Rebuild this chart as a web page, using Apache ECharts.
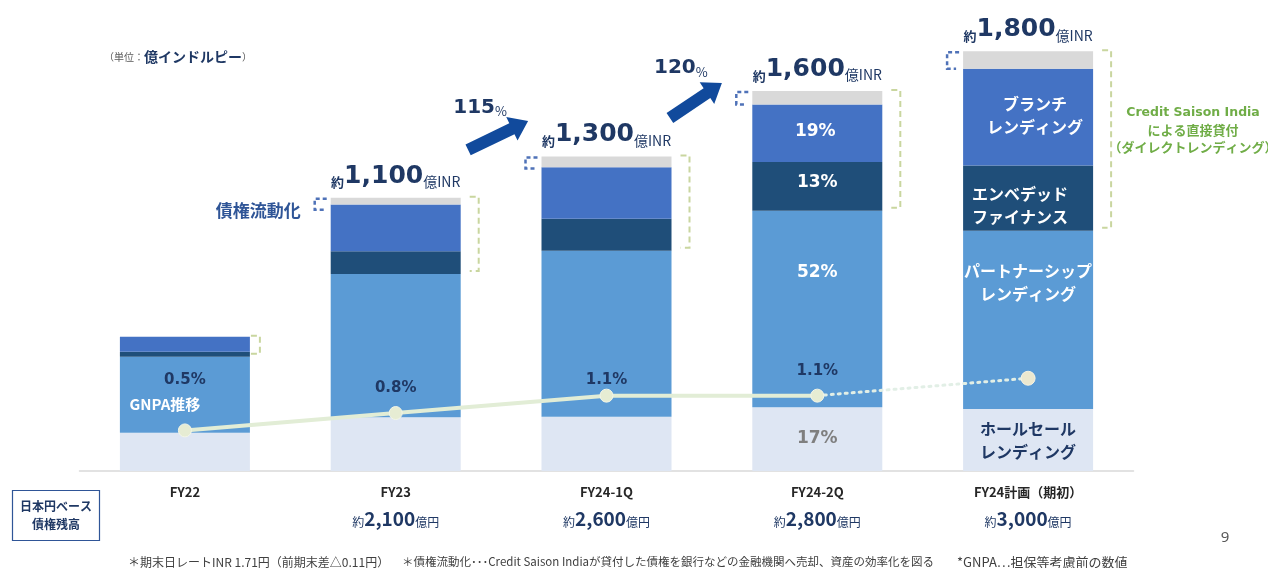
<!DOCTYPE html>
<html>
<head>
<meta charset="utf-8">
<script src="https://cdn.jsdelivr.net/npm/echarts@6/dist/echarts.min.js"></script>
<style>
html,body{margin:0;padding:0;background:#fff}
#c{width:1268px;height:568px}
</style>
</head>
<body>
<div id="c"></div>
<script>
// 期
const categories = ['FY22', 'FY23', 'FY24-1Q', 'FY24-2Q', 'FY24計画（期初）'];
// 債権残高の内訳（億INR）
const wholesale   = [161, 226, 228, 268, 260];
const partnership = [318, 601, 696, 824, 748];
const embedded    = [21, 95, 134, 205, 274];
const branch      = [63, 196, 217, 241, 406];
const securitized = [0, 28, 45, 56, 73];
// 表示用の残高（億INR / 億円）
const totalInr = ['', '1,100', '1,300', '1,600', '1,800'];
const totalJpy = ['', '2,100', '2,600', '2,800', '3,000'];
// GNPA（%）
const gnpa = [0.5, 0.8, 1.1, 1.1, 1.4];
// 前期比成長率（%）
const growth = ['115', '120'];

const shareIdx = 3;   // 構成比を表示する期
const planIdx = 4;    // 計画値の期

const NAVY = '#1f3864';
const JP = 'Noto Sans CJK JP';
const WIDE = 'DejaVu Sans';

const total = categories.map((_, i) =>
  wholesale[i] + partnership[i] + embedded[i] + branch[i] + securitized[i]);
const pct = v => Math.round(v / total[shareIdx] * 100) + '%';

const segLabel = (text, color, extra) => Object.assign({
  show: true, formatter: text, color: color, fontFamily: JP, fontWeight: 'bold',
  fontSize: 16, lineHeight: 23, position: 'inside'
}, extra || {});
const pctLabel = (text, color, extra) => Object.assign({
  show: true, formatter: text, color: color, fontFamily: WIDE, fontWeight: 'bold',
  fontSize: 17, position: 'inside'
}, extra || {});

function items(values, share, plan) {
  return values.map((v, i) => {
    if (i === shareIdx && share) return { value: v, label: share };
    if (i === planIdx && plan) return { value: v, label: plan };
    return v;
  });
}

// GNPAラベルの持ち上げ量（px）
const gnpaLift = [36, 10, 1, 10];

const option = {
  animation: false,
  backgroundColor: '#ffffff',
  textStyle: { fontFamily: JP },
  grid: { left: 79.5, right: 134.5, top: 42, bottom: 97 },
  xAxis: {
    type: 'category',
    data: categories,
    axisTick: { show: false },
    axisLine: { lineStyle: { color: '#d9d9d9', width: 1.5 } },
    axisLabel: {
      margin: 10,
      interval: 0,
      formatter: (val, idx) => {
        let s = '{c|' + val + '}';
        if (totalJpy[idx]) s += '\n{y|約}{n|' + totalJpy[idx] + '}{u|億円}';
        return s;
      },
      rich: {
        c: { fontFamily: JP, fontWeight: 'bold', fontSize: 13, color: '#262626', lineHeight: 22 },
        y: { fontFamily: JP, fontSize: 12, color: NAVY, lineHeight: 20, verticalAlign: 'bottom' },
        n: { fontFamily: JP, fontWeight: 'bold', fontSize: 19, color: NAVY, lineHeight: 25, verticalAlign: 'bottom' },
        u: { fontFamily: JP, fontSize: 12, color: NAVY, lineHeight: 20, verticalAlign: 'bottom' }
      }
    }
  },
  yAxis: [
    { type: 'value', min: 0, max: 1800, show: false },
    { type: 'value', min: -0.2, max: 7.2, show: false }
  ],
  series: [
    {
      name: 'ホールセールレンディング', type: 'bar', stack: 'loan', barWidth: 130,
      itemStyle: { color: '#dee6f3' },
      data: items(wholesale,
        pctLabel(pct(wholesale[shareIdx]), '#7f7f7f'),
        segLabel('ホールセール\nレンディング', NAVY))
    },
    {
      name: 'パートナーシップレンディング', type: 'bar', stack: 'loan',
      itemStyle: { color: '#5b9bd5' },
      data: items(partnership,
        pctLabel(pct(partnership[shareIdx]), '#ffffff', { offset: [0, -36] }),
        segLabel('パートナーシップ\nレンディング', '#ffffff', { offset: [0, -37] }))
    },
    {
      name: 'エンベデッドファイナンス', type: 'bar', stack: 'loan',
      itemStyle: { color: '#1f4e79' },
      data: items(embedded,
        pctLabel(pct(embedded[shareIdx]), '#ffffff', { offset: [0, -4] }),
        segLabel('エンベデッド\nファイナンス', '#ffffff', { offset: [-8, 7] }))
    },
    {
      name: 'ブランチレンディング', type: 'bar', stack: 'loan',
      itemStyle: { color: '#4472c4' },
      data: items(branch,
        pctLabel(pct(branch[shareIdx] + securitized[shareIdx]), '#ffffff', { offset: [-2, -2] }),
        segLabel('ブランチ\nレンディング', '#ffffff', { offset: [7, -2] }))
    },
    {
      name: '債権流動化', type: 'bar', stack: 'loan',
      itemStyle: { color: '#d9d9d9' },
      label: {
        show: true, position: 'top', distance: 9,
        formatter: p => totalInr[p.dataIndex] ? '{y|約}{n|' + totalInr[p.dataIndex] + '}{u|億INR}' : '',
        rich: {
          y: { fontFamily: JP, fontWeight: 'bold', fontSize: 13, color: NAVY, lineHeight: 30, verticalAlign: 'bottom' },
          n: { fontFamily: WIDE, fontWeight: 'bold', fontSize: 25, color: NAVY, lineHeight: 30, verticalAlign: 'bottom' },
          u: { fontFamily: JP, fontSize: 14, color: NAVY, lineHeight: 30, verticalAlign: 'bottom' }
        }
      },
      data: securitized
    },
    {
      name: 'GNPA', type: 'line', yAxisIndex: 1, z: 5,
      symbol: 'circle', symbolSize: 13,
      lineStyle: { color: '#e2edd6', width: 4 },
      itemStyle: { color: '#e6ecd3', borderColor: '#f3f6e8', borderWidth: 1 },
      label: {
        show: true, position: 'top', formatter: '{c}%',
        fontFamily: WIDE, fontWeight: 'bold', fontSize: 15, color: NAVY
      },
      data: gnpa.map((v, i) => i <= shareIdx ? { value: v, label: { distance: gnpaLift[i] } } : '-')
    },
    {
      name: 'GNPA計画', type: 'line', yAxisIndex: 1, z: 5,
      symbol: 'circle', symbolSize: 14,
      lineStyle: { color: '#e2efe6', width: 3, type: [2, 5], cap: 'round' },
      itemStyle: { color: '#ece8cf', borderColor: '#f5f3e4', borderWidth: 1 },
      data: gnpa.map((v, i) => i === shareIdx ? { value: v, symbolSize: 0 } : (i > shareIdx ? v : '-'))
    }
  ]
};

const chart = echarts.init(document.getElementById('c'));
chart.setOption(option);

// 注記類を軸の座標から配置する
const px = (i, v) => chart.convertToPixel({ gridIndex: 0 }, [i, v]);
const gpx = (i, v) => chart.convertToPixel({ seriesIndex: 5 }, [i, v]);
const half = 65;
const lvl = categories.map((_, i) => {
  const c1 = wholesale[i], c2 = c1 + partnership[i], c3 = c2 + embedded[i],
        c4 = c3 + branch[i], c5 = c4 + securitized[i];
  return { cx: px(i, 0)[0], base: px(i, 0)[1], y1: px(i, c1)[1], y2: px(i, c2)[1],
           y3: px(i, c3)[1], y4: px(i, c4)[1], y5: px(i, c5)[1] };
});

const g = [];
function arrowPts(x0, y0, x1, y1, sw, hw, hl) {
  const dx = x1 - x0, dy = y1 - y0, L = Math.hypot(dx, dy);
  const ux = dx / L, uy = dy / L, nx = -uy, ny = ux;
  const bx = x1 - ux * hl, by = y1 - uy * hl;
  return [[x0 + nx * sw, y0 + ny * sw], [bx + nx * sw, by + ny * sw], [bx + nx * hw, by + ny * hw],
          [x1, y1], [bx - nx * hw, by - ny * hw], [bx - nx * sw, by - ny * sw], [x0 - nx * sw, y0 - ny * sw]];
}

lvl.forEach((L, i) => {
  const left = L.cx - half, right = L.cx + half;
  // 債権流動化の目印（左）
  if (securitized[i] > 0) {
    const x = left - 16, t = L.y5 + 1, b = Math.max(L.y4, t + 11);
    g.push({ type: 'polyline', silent: true,
      shape: { points: [[x + 12, t], [x, t], [x, b], [x + 9, b]] },
      style: { stroke: '#4f72b8', lineWidth: 2.5, lineDash: [4, 3], fill: null } });
  }
  // 直接貸付の括弧（右）
  const rx = right + (i === 0 ? 10 : 18);
  const rt = L.y5 - 1, rb = L.y2 - 3;
  g.push({ type: 'polyline', silent: true,
    shape: { points: [[rx - 9, rt], [rx, rt], [rx, rb], [rx - 9, rb]] },
    style: { stroke: '#c9d69f', lineWidth: 2, lineDash: [6, 4], fill: null } });
});

// 成長率の矢印
const arrowColor = '#114a9c';
[[1, 2, -33, -6.5, 27, -35.5, -21, -52], [2, 3, -42, 27, 10, -8, -31, -26]].forEach((a, k) => {
  const mid = (lvl[a[0]].cx + lvl[a[1]].cx) / 2, top = lvl[a[1]].y5;
  g.push({ type: 'polygon', silent: true,
    shape: { points: arrowPts(mid + a[2], top + a[3], mid + a[4], top + a[5], 6, 13, 18) },
    style: { fill: arrowColor } });
  g.push({ type: 'text', silent: true, x: mid + a[6], y: top + a[7],
    style: { text: '{n|' + growth[k] + '}{p|%}', align: 'center', verticalAlign: 'middle',
      rich: {
        n: { fontFamily: WIDE, fontWeight: 'bold', fontSize: 20, fill: NAVY, lineHeight: 26, verticalAlign: 'bottom' },
        p: { fontFamily: JP, fontSize: 13, fill: NAVY, lineHeight: 24, verticalAlign: 'bottom' }
      } } });
});

// FY24-2Q 構成比（ブランチ＋流動化）の範囲
{
  const L = lvl[shareIdx], x = L.cx - half + 21, t = L.y5 + 1, b = L.y3 - 2;
  g.push({ type: 'line', silent: true, shape: { x1: x, y1: t + 6, x2: x, y2: b - 6 },
    style: { stroke: '#ffffff', lineWidth: 1.2 } });
  g.push({ type: 'polygon', silent: true, shape: { points: [[x, t], [x - 4, t + 8], [x + 4, t + 8]] },
    style: { fill: '#ffffff' } });
  g.push({ type: 'polygon', silent: true, shape: { points: [[x, b], [x - 4, b - 8], [x + 4, b - 8]] },
    style: { fill: '#ffffff' } });
}

// GNPA推移
{
  const p = gpx(0, gnpa[0]);
  g.push({ type: 'text', silent: true, z: 10, x: p[0] - 20, y: p[1] - 26,
    style: { text: 'GNPA推移', fontFamily: JP, fontWeight: 'bold', fontSize: 15, fill: '#ffffff',
      align: 'center', verticalAlign: 'middle' } });
}

// 債権流動化の見出し
g.push({ type: 'text', silent: true, x: lvl[1].cx - half - 30, y: lvl[1].y5 + 13,
  style: { text: '債権流動化', fontFamily: JP, fontWeight: 'bold', fontSize: 17, fill: '#2f5597',
    align: 'right', verticalAlign: 'middle' } });

// 単位
g.push({ type: 'text', silent: true, x: 104, y: 57,
  style: { text: '{s|（単位：}{b|億インドルピー}{s|）}', verticalAlign: 'middle',
    rich: {
      s: { fontFamily: JP, fontSize: 10, fill: '#595959' },
      b: { fontFamily: JP, fontWeight: 'bold', fontSize: 14, fill: NAVY }
    } } });

// ダイレクトレンディングの説明
g.push({ type: 'text', silent: true, x: 1193, y: 130,
  style: { text: '{l|Credit Saison India}\n{j|による直接貸付}\n{j|（ダイレクトレンディング）}',
    align: 'center', verticalAlign: 'middle',
    rich: {
      l: { fontFamily: WIDE, fontWeight: 'bold', fontSize: 12.5, lineHeight: 17, fill: '#70ad47', align: 'center' },
      j: { fontFamily: JP, fontWeight: 'bold', fontSize: 13, lineHeight: 17, fill: '#70ad47', align: 'center' }
    } } });

// 日本円ベースの見出し
g.push({ type: 'rect', silent: true, shape: { x: 12.5, y: 490.5, width: 87, height: 50 },
  style: { fill: '#ffffff', stroke: '#2f5597', lineWidth: 1.2 } });
g.push({ type: 'text', silent: true, x: 56, y: 515,
  style: { text: '日本円ベース\n債権残高', fontFamily: JP, fontWeight: 'bold', fontSize: 12, lineHeight: 18,
    fill: NAVY, align: 'center', verticalAlign: 'middle' } });

// 脚注
[[128, 12, '＊期末日レートINR 1.71円（前期末差△0.11円）'],
 [402, 11.5, '＊債権流動化･･･Credit Saison Indiaが貸付した債権を銀行などの金融機関へ売却、資産の効率化を図る'],
 [957, 13, '*GNPA…担保等考慮前の数値']].forEach(f => {
  g.push({ type: 'text', silent: true, x: f[0], y: 562,
    style: { text: f[2], fontFamily: JP, fontSize: f[1], fill: '#404040', verticalAlign: 'middle' } });
});

// ページ番号
g.push({ type: 'text', silent: true, x: 1225, y: 538,
  style: { text: '9', fontFamily: 'Noto Sans', fontSize: 15, fill: '#595959', align: 'center', verticalAlign: 'middle' } });

chart.setOption({ graphic: { elements: g } });
</script>
</body>
</html>
